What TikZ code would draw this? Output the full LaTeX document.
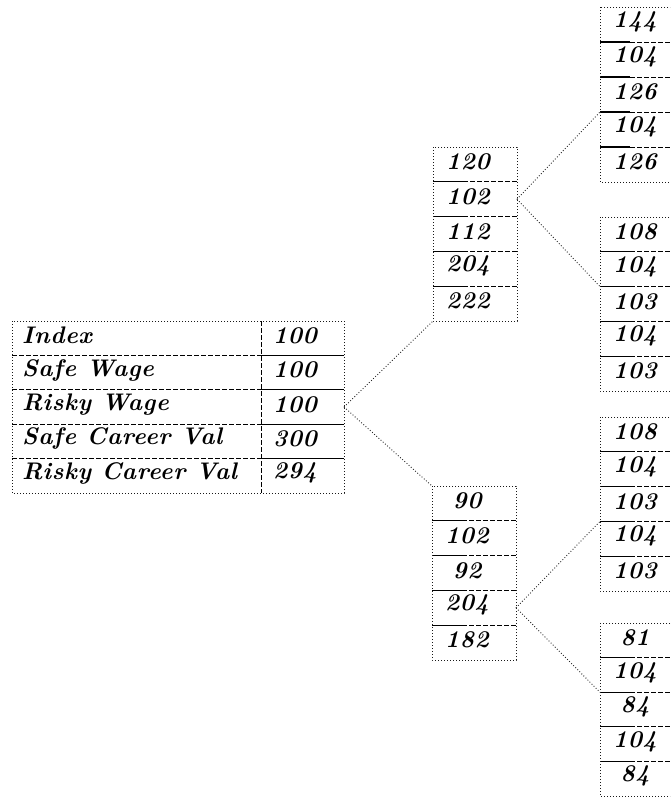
\documentclass[tikz,border=0pt]{standalone}
\usepackage{fontspec}
\setmainfont{lmroman10-regular.otf}[
  BoldFont=lmroman10-bold.otf,
  ItalicFont=lmroman10-italic.otf,
  BoldItalicFont=lmroman10-bolditalic.otf,
  LetterSpace=2.5]
% one column of stacked value cells: name, left x, top y, row height, values
\newcommand\valuebox[5]{%
  \foreach \v [count=\i] in {#5} {
    \node[cell={84pt}{#4 pt}] (#1-\i) at (#2, {#3+(\i-1)*#4}) {};
    \node[cellfont] at ({#2+35}, {#3+(\i-0.5)*#4-2.5}) {\v};
  }
  \foreach \i in {1,...,4} {
    \draw[rowsolid] (#1-\i.south west) -- ++(30,0) coordinate (#1-s\i);
    \draw[rowsep] (#1-s\i) -- (#1-\i.south east);
  }
  \draw[outline] (#1-1.north west) rectangle (#1-5.south east);
}
\begin{document}
\begin{tikzpicture}[x=1pt, y=-1pt,
  cellfont/.style={font=\fontsize{24}{28}\selectfont\bfseries\itshape, inner sep=0pt},
  outline/.style={draw=black!90, line width=1pt, dotted},
  rowsep/.style={draw=black, line width=1pt, dash pattern=on 5pt off 2pt},
  rowsolid/.style={draw=black, line width=1.1pt},
  link/.style={draw=black!85, line width=0.9pt, dotted},
  cell/.style 2 args={inner sep=0pt, outer sep=0pt, minimum width=#1,
    minimum height=#2, anchor=north west}]
\useasboundingbox (0,0) rectangle (670,798);
\clip (0,0) rectangle (670,798);

% root table
\foreach \lab/\val [count=\i] in {Index/100, Safe Wage/100, Risky Wage/100,
    Safe Career Val/300, Risky Career Val/294} {
  \node[cell={249pt}{34.4pt}] (L-\i) at (12, {321+(\i-1)*34.4}) {};
  \node[cell={83pt}{34.4pt}] (LV-\i) at (261, {321+(\i-1)*34.4}) {};
  \node[cellfont, anchor=west] at (22, {321+(\i-0.5)*34.4-2.5}) {\lab};
  \node[cellfont] at (295, {321+(\i-0.5)*34.4-2.5}) {\val};
}
\foreach \i in {1,...,4} {
  \draw[rowsep] (L-\i.south west) -- (L-\i.south east);
  \draw[rowsolid] (LV-\i.south west) -- (LV-\i.south east);
}
\draw[rowsep] (L-1.north east) -- (L-5.south east);
\draw[outline] (L-1.north west) rectangle (LV-5.south east);

% second level
\valuebox{U}{433}{147}{34.8}{120,102,112,204,222}
\valuebox{D}{432}{486}{34.8}{90,102,92,204,182}

% third level
\valuebox{R1}{600}{7}{35}{144,104,126,104,126}
\valuebox{R2}{600}{217}{34.8}{108,104,103,104,103}
\valuebox{R3}{600}{417}{34.8}{108,104,103,104,103}
\valuebox{R4}{600}{623}{34.6}{81,104,84,104,84}

% branches
\draw[link] (LV-3.east) -- (U-5.south west);
\draw[link] (LV-3.east) -- (D-1.north west);
\draw[link] (U-2.east) -- (R1-4.north west);
\draw[link] (U-2.east) -- (R2-3.north west);
\draw[link] (D-4.east) -- (R3-4.north west);
\draw[link] (D-4.east) -- (R4-3.north west);
\end{tikzpicture}
\end{document}
